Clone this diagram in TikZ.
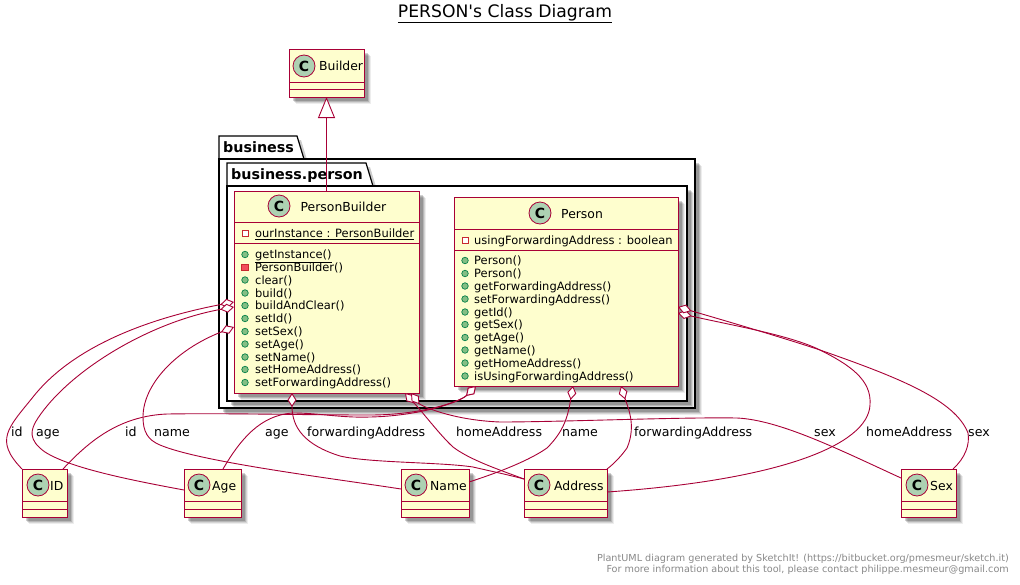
\documentclass[tikz,border=0pt]{standalone}
\usepackage{fontspec}
\setmainfont{DejaVu Sans}
\newfontfamily\titlefont{DejaVu Sans}
\usetikzlibrary{calc,shadows,arrows.meta}
\definecolor{umlline}{HTML}{A80036}
\definecolor{umlfill}{HTML}{FEFECE}
\definecolor{umlicon}{HTML}{ADD1B2}
\definecolor{pubfill}{HTML}{84BE84}
\definecolor{publine}{HTML}{038048}
\definecolor{privline}{HTML}{C82930}
\definecolor{privfill}{HTML}{F24D5C}
\definecolor{footgray}{HTML}{888888}
\tikzset{
  softshadow/.style={
    general shadow={fill=black,fill opacity=.07,shadow xshift=7pt,shadow yshift=-7pt},
    general shadow={fill=black,fill opacity=.10,shadow xshift=6pt,shadow yshift=-6pt},
    general shadow={fill=black,fill opacity=.14,shadow xshift=5pt,shadow yshift=-5pt},
    general shadow={fill=black,fill opacity=.18,shadow xshift=4pt,shadow yshift=-4pt}},
  classbox/.style={draw=umlline,fill=umlfill,line width=1pt,inner sep=0pt,outer sep=0pt,softshadow,rectangle,anchor=north west},
  classrule/.style={draw=umlline,line width=1pt},
  frameline/.style={draw=black,line width=1.2pt,fill=white},
  framebox/.style={frameline,inner sep=0pt,outer sep=0pt,softshadow,rectangle,anchor=north west},
  classicon/.style={circle,draw=umlline,fill=umlicon,line width=.8pt,minimum size=22pt,inner sep=0pt,font=\fontsize{14}{14}\selectfont\bfseries},
  classname/.style={inner sep=0pt,anchor=base west,font=\fontsize{12.4}{13}\selectfont},
  member/.style={inner sep=0pt,anchor=base west,font=\fontsize{11.45}{12}\selectfont},
  edgelabel/.style={inner sep=0pt,anchor=base west,font=\fontsize{12.6}{13}\selectfont},
  pkgname/.style={inner sep=0pt,anchor=base west,font=\fontsize{14.3}{15}\selectfont\bfseries},
  footnote/.style={inner sep=0pt,anchor=base east,text=footgray,font=\fontsize{9.65}{10}\selectfont},
  pubicon/.style={circle,draw=publine,fill=pubfill,line width=.7pt,minimum size=6.5pt,inner sep=0pt},
  privfield/.style={rectangle,draw=privline,fill=white,line width=.9pt,minimum size=6pt,inner sep=0pt},
  privmethod/.style={rectangle,draw=privline,fill=privfill,line width=.7pt,minimum size=6.5pt,inner sep=0pt},
  aggr/.style={draw=umlline,line width=.9pt,{Diamond[fill=white,length=14pt,width=9pt,line width=.9pt]}-},
  inherit/.style={draw=umlline,line width=.9pt,{Triangle[open,fill=white,length=21pt,width=17pt,line width=.9pt]}-}
}
\newcount\memno
% #1 name, #2 left, #3 right, #4 top, #5 rule1, #6 rule2, #7 bottom
\newcommand{\umlbox}[7]{%
  \node[classbox,minimum width={#3pt-#2pt},minimum height={#7pt-#4pt}] (#1) at (#2,#4) {};
  \draw[classrule] ($(#1.north west)+(0,#5-#4)$) -- ($(#1.north east)+(0,#5-#4)$);
  \draw[classrule] ($(#1.north west)+(0,#6-#4)$) -- ($(#1.north east)+(0,#6-#4)$);
}
% #1 style, #2 icon x, #3 text x, #4 baseline y, #5 text
\newcommand{\mem}[5]{%
  \global\advance\memno by 1
  \node[#1] (ic\the\memno) at (#2,#4-4) {};
  \node[member] (tx\the\memno) at (#3,#4) {#5};
}
\begin{document}
\begin{tikzpicture}[x=1pt,y=-1pt]
\useasboundingbox (0,0) rectangle (1020,584);

\node[inner sep=0pt,anchor=base,font=\titlefont\fontsize{17.2}{18}\selectfont] (title) at (505,17) {\underline{PERSON's Class Diagram}};

% packages
\path[frameline,general shadow={fill=black,fill opacity=.2,shadow xshift=4pt,shadow yshift=-4pt}] (219,159) -- (219,136) -- (297,136) -- (304,159) -- cycle;
\node[framebox,minimum width=476pt,minimum height=249pt] (biz) at (219,159) {};
\path[frameline,general shadow={fill=black,fill opacity=.2,shadow xshift=4pt,shadow yshift=-4pt}] (227,186) -- (227,163) -- (366,163) -- (373,186) -- cycle;
\node[framebox,minimum width=460pt,minimum height=215pt] (bizp) at (227,186) {};
\node[pkgname] (bizlabel) at (223,152) {business};
\node[pkgname] (bizplabel) at (231,179) {business.person};

% classes
\umlbox{builder}{289}{364}{49}{82}{89}{97}
\node[classicon] (ibuilder) at (304,66) {C};
\node[classname] (nbuilder) at (319,70.5) {Builder};

\umlbox{pb}{234}{419}{191}{222}{243}{393}
\node[classicon] (ipb) at (279,206) {C};
\node[classname] (npb) at (300.5,211) {PersonBuilder};
\mem{privfield}{245}{255}{237.5}{\underline{ourInstance : PersonBuilder}}
\mem{pubicon}{245}{255}{258.5}{\underline{getInstance()}}
\mem{privmethod}{245}{255}{271.5}{PersonBuilder()}
\mem{pubicon}{245}{255}{284}{clear()}
\mem{pubicon}{245}{255}{297}{build()}
\mem{pubicon}{245}{255}{309.5}{buildAndClear()}
\mem{pubicon}{245}{255}{322.5}{setId()}
\mem{pubicon}{245}{255}{335.5}{setSex()}
\mem{pubicon}{245}{255}{348}{setAge()}
\mem{pubicon}{245}{255}{361}{setName()}
\mem{pubicon}{245}{255}{373.5}{setHomeAddress()}
\mem{pubicon}{245}{255}{386.5}{setForwardingAddress()}

\umlbox{person}{454}{678}{197}{229}{250}{386}
\node[classicon] (iperson) at (540,213) {C};
\node[classname] (nperson) at (561,218) {Person};
\mem{privfield}{465}{474}{244.5}{usingForwardingAddress : boolean}
\mem{pubicon}{465}{474}{264.5}{Person()}
\mem{pubicon}{465}{474}{277.5}{Person()}
\mem{pubicon}{465}{474}{290}{getForwardingAddress()}
\mem{pubicon}{465}{474}{303}{setForwardingAddress()}
\mem{pubicon}{465}{474}{316}{getId()}
\mem{pubicon}{465}{474}{328.5}{getSex()}
\mem{pubicon}{465}{474}{341.5}{getAge()}
\mem{pubicon}{465}{474}{354}{getName()}
\mem{pubicon}{465}{474}{367}{getHomeAddress()}
\mem{pubicon}{465}{474}{380}{isUsingForwardingAddress()}

\umlbox{idc}{22}{67}{469}{501}{509}{517}
\node[classicon] (iidc) at (38,485) {C};
\node[classname] (nidc) at (50,490) {ID};
\umlbox{age}{184}{241}{469}{501}{509}{517}
\node[classicon] (iage) at (199,485) {C};
\node[classname] (nage) at (212,490) {Age};
\umlbox{name}{401}{469}{469}{501}{509}{517}
\node[classicon] (iname) at (416,485) {C};
\node[classname] (nname) at (430,490) {Name};
\umlbox{addr}{524}{607}{469}{501}{509}{517}
\node[classicon] (iaddr) at (539,485) {C};
\node[classname] (naddr) at (554,490) {Address};
\umlbox{sex}{901}{956}{469}{501}{509}{517}
\node[classicon] (isex) at (917,485) {C};
\node[classname] (nsex) at (930,490) {Sex};

% connectors
\draw[inherit] (builder.south) -- (pb.north -| builder.south);

\draw[aggr] ($(pb.north west)+(0,111)$) .. controls (140,320) and (70,350) .. (33,397) .. controls (8,428) and (-6,440) .. (idc.north west);
\draw[aggr] ($(pb.north west)+(0,116)$) .. controls (150,322) and (70,370) .. (38,418) .. controls (30,430) and (28,440) .. (45,452) .. controls (70,468) and (130,480) .. ($(age.north west)+(0,21)$);
\draw[aggr] ($(pb.north west)+(0,136)$) .. controls (175,350) and (143,385) .. (143,417) .. controls (143,432) and (148,440) .. (160,445) .. controls (200,462) and (330,478) .. ($(name.north west)+(0,20)$);
\draw[aggr] ($(pb.south west)+(58,0)$) .. controls (292,428) and (305,445) .. (340,456) .. controls (370,463) and (440,462) .. (473,467) .. controls (490,471) and (505,474) .. ($(addr.north west)+(0,10)$);
\draw[aggr] ($(pb.south east)+(-14,0)$) .. controls (425,415) and (440,435) .. (453,447) .. controls (470,460) and (500,470) .. ($(addr.north west)+(0,10)$);
\draw[aggr] ($(pb.south east)+(-8,0)$) .. controls (420,405) and (450,420) .. (500,422) .. controls (560,422) and (680,417) .. (737,418) .. controls (780,420) and (840,450) .. ($(sex.north west)+(0,9)$);

\draw[aggr] ($(person.south west)+(22,0)$) .. controls (460,402) and (420,415) .. (370,415) .. controls (300,415) and (230,413) .. (167,414) .. controls (120,416) and (90,440) .. ($(idc.north east)+(-4,0)$);
\draw[aggr] ($(person.south west)+(22,0)$) .. controls (460,402) and (420,416) .. (370,417) .. controls (340,418) and (320,413) .. (293,413) .. controls (260,415) and (240,440) .. ($(age.north west)+(39,0)$);
\draw[aggr] ($(person.south west)+(119,0)$) .. controls (568,415) and (565,430) .. (547,448) .. controls (530,460) and (500,472) .. ($(name.north east)+(0,13)$);
\draw[aggr] ($(person.south west)+(167,0)$) .. controls (627,405) and (637,425) .. (627,448) .. controls (622,455) and (615,463) .. (addr.north east);
\draw[aggr] ($(person.north east)+(0,116)$) .. controls (730,325) and (790,335) .. (820,350) .. controls (850,365) and (872,380) .. (870,405) .. controls (868,445) and (780,480) .. ($(addr.north east)+(0,23)$);
\draw[aggr] ($(person.north east)+(0,110)$) .. controls (740,325) and (790,340) .. (820,350) .. controls (900,378) and (955,400) .. (968,433) .. controls (970,445) and (965,458) .. ($(sex.north east)+(-3,0)$);

% labels
\node[edgelabel] (l1) at (11,436) {id};
\node[edgelabel] (l2) at (36,436) {age};
\node[edgelabel] (l3) at (125,436) {id};
\node[edgelabel] (l4) at (154,436) {name};
\node[edgelabel] (l5) at (265,436) {age};
\node[edgelabel] (l6) at (307,436) {forwardingAddress};
\node[edgelabel] (l7) at (456,436) {homeAddress};
\node[edgelabel] (l8) at (562,436) {name};
\node[edgelabel] (l9) at (634,436) {forwardingAddress};
\node[edgelabel] (l10) at (814,436) {sex};
\node[edgelabel] (l11) at (866,436) {homeAddress};
\node[edgelabel] (l12) at (968,436) {sex};

\node[footnote] (f1) at (1009,561) {PlantUML diagram generated by SketchIt! (https://bitbucket.org/pmesmeur/sketch.it)};
\node[footnote] (f2) at (1009,572) {For more information about this tool, please contact philippe.mesmeur@gmail.com};
\end{tikzpicture}
\end{document}
